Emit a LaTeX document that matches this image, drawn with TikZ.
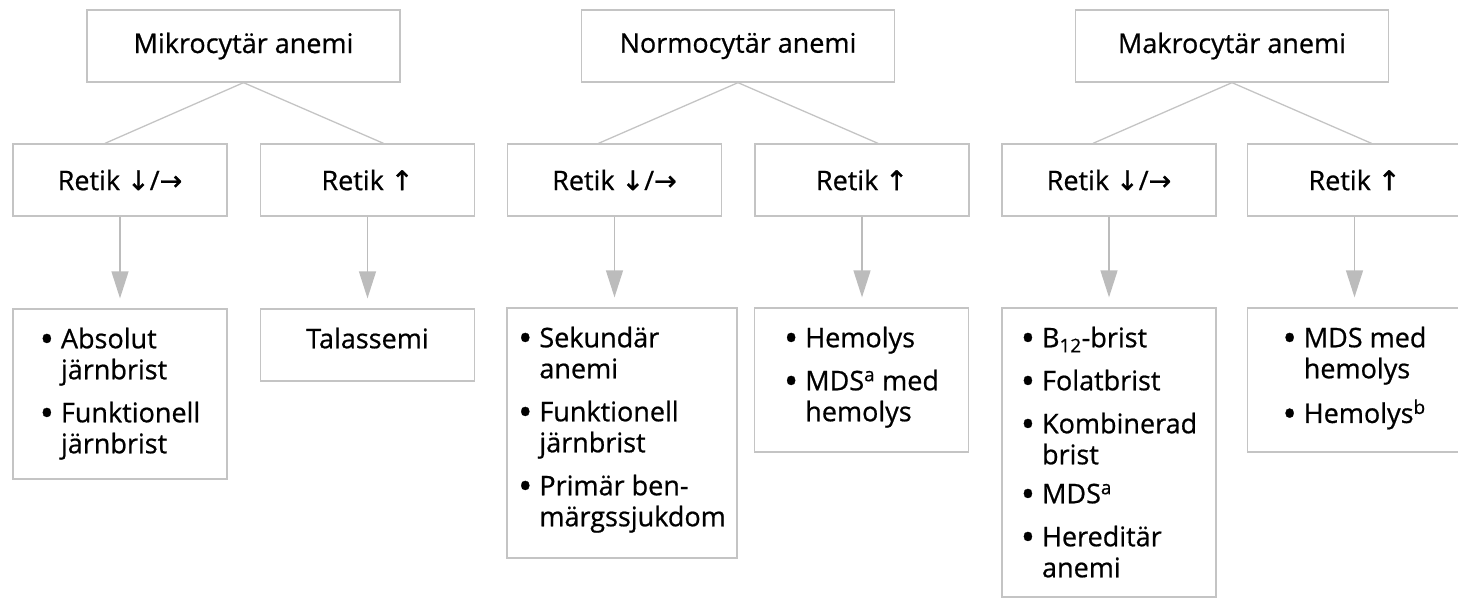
\documentclass[tikz,border=0pt]{standalone}
\usepackage{fontspec}
\setmainfont{Open Sans}[FakeBold=0.7]
\newfontfamily\pilfont{DejaVu Sans}[FakeBold=1.2]
\usetikzlibrary{positioning,arrows.meta}
\definecolor{ramgra}{RGB}{196,196,196}
\definecolor{pilgra}{RGB}{188,188,188}
\newcommand{\ned}{{\pilfont ↓}}
\newcommand{\upp}{{\pilfont ↑}}
\newcommand{\hoger}{{\pilfont →}}
\newcommand{\prick}{\raisebox{-4pt}{\scalebox{1.4}{\textbullet}}}

\begin{document}
\begin{tikzpicture}[x=1pt,y=-1pt]
\tikzset{ruta/.style={draw=ramgra,line width=1.3pt,
                      minimum width=214pt,
                      minimum height=72pt,
                      inner sep=0pt,
                      font=\fontsize{27}{31}\selectfont},
         topp/.style={ruta,minimum width=313pt},
         lista/.style={inner sep=0pt,font=\fontsize{27}{31}\selectfont},
         gren/.style={draw=ramgra,line width=1.3pt},
         pil/.style={draw=pilgra,line width=1.3pt,
                     -{Triangle[length=27pt,width=17pt]},
                     shorten >=10pt}
}
\useasboundingbox (0,0) rectangle (1458,600);
\node[topp] (M0) at (243.5,46) {Mikrocytär anemi};
\node[topp] (N0) at (738,46)   {Normocytär anemi};
\node[topp] (K0) at (1232,46)  {Makrocytär anemi};
\node[ruta] (M1) at (120,180)    {Retik \ned/\hoger};
\node[ruta] (M2) at (367.5,180)  {Retik \upp};
\node[ruta] (N1) at (614.5,180)  {Retik \ned/\hoger};
\node[ruta] (N2) at (862,180)    {Retik \upp};
\node[ruta] (K1) at (1109,180)   {Retik \ned/\hoger};
\node[ruta] (K2) at (1354.5,180) {Retik \upp};
\draw[gren] (M0.south) -- ([xshift=-15pt]M1.north);
\draw[gren] (M0.south) -- ([xshift=16pt]M2.north);
\draw[gren] (N0.south) -- ([xshift=-16pt]N1.north);
\draw[gren] (N0.south) -- ([xshift=16pt]N2.north);
\draw[gren] (K0.south) -- ([xshift=-16pt]K1.north);
\draw[gren] (K0.south) -- ([xshift=17pt]K2.north);
\node[ruta,minimum height=170pt] (M3) at (120,394)    {};
\node[ruta,minimum height=72pt]  (M4) at (367.5,345)  {};
\node[ruta,minimum width=230pt,minimum height=250pt] (N3) at (622,433) {};
\node[ruta,minimum height=144pt] (N4) at (861.5,380)  {};
\node[ruta,minimum height=289pt] (K3) at (1109,452.5) {};
\node[ruta,minimum height=144pt] (K4) at (1354.5,380) {};
\draw[pil] (M1.south) -- (M1.south|-M3.north);
\draw[pil] (M2.south) -- (M2.south|-M4.north);
\draw[pil] (N1.south) -- (N1.south|-N3.north);
\draw[pil] (N2.south) -- (N2.south|-N4.north);
\draw[pil] (K1.south) -- (K1.south|-K3.north);
\draw[pil] (K2.south) -- (K2.south|-K4.north);
\node[lista,below=18pt of M3.north] (M3t) {\begin{tabular}{@{}l@{\hspace{7pt}}l@{}}
  \prick & Absolut\\ & järnbrist\\[12pt]
  \prick & Funktionell\\ & järnbrist\end{tabular}};
\node[lista,below=18pt of M4.north] (M4t) {\strut Talassemi};
\node[lista,below=18pt of N3.north] (N3t) {\begin{tabular}{@{}l@{\hspace{7pt}}l@{}}
  \prick & Sekundär\\ & anemi\\[12pt]
  \prick & Funktionell\\ & järnbrist\\[12pt]
  \prick & Primär ben-\\ & märgssjukdom\end{tabular}};
\node[lista,below=18pt of N4.north] (N4t) {\begin{tabular}{@{}l@{\hspace{7pt}}l@{}}
  \prick & Hemolys\\[12pt]
  \prick & MDS\textsuperscript{a} med\\ & hemolys\end{tabular}};
\node[lista,below=18pt of K3.north] (K3t) {\begin{tabular}{@{}l@{\hspace{7pt}}l@{}}
  \prick & B\textsubscript{12}-brist\\[12pt]
  \prick & Folatbrist\\[12pt]
  \prick & Kombinerad\\ & brist\\[8pt]
  \prick & MDS\textsuperscript{a}\\[12pt]
  \prick & Hereditär\\ & anemi\end{tabular}};
\node[lista,below=18pt of K4.north] (K4t) {\begin{tabular}{@{}l@{\hspace{7pt}}l@{}}
  \prick & MDS med\\ & hemolys\\[12pt]
  \prick & Hemolys\textsuperscript{b}\end{tabular}};
\end{tikzpicture}
\end{document}
